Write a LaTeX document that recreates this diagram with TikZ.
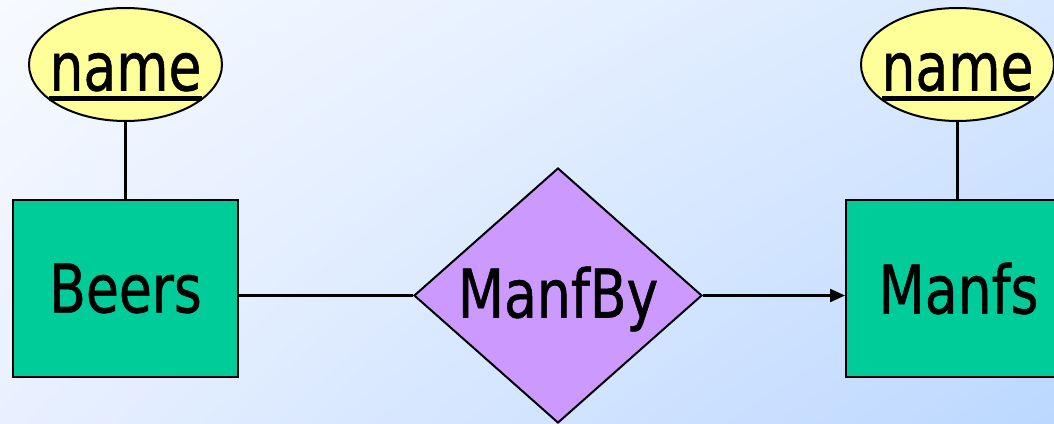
\documentclass[tikz,border=0pt]{standalone}
\usepackage{fontspec}
\setmainfont{DejaVu Sans}[FakeStretch=0.8,FakeBold=0.8]
\usetikzlibrary{shapes.geometric,arrows.meta,shadings}

\definecolor{bgtl}{HTML}{F7FAFF}
\definecolor{bgtr}{HTML}{D8E8FF}
\definecolor{bgbl}{HTML}{E8F0FF}
\definecolor{bgbr}{HTML}{BCD8FF}
\definecolor{entfill}{HTML}{00CC99}
\definecolor{relfill}{HTML}{CC99FF}
\definecolor{attrfill}{HTML}{FFFF99}

% key attribute: thick underline below the word
\newcommand{\keyattr}[1]{\setbox0\hbox{#1}\rlap{\rule[-10pt]{\wd0}{5pt}}\box0}

\tikzset{
	entity/.style={draw, line width=2pt, fill=entfill, rectangle,
		minimum width=225pt, minimum height=177pt, inner sep=0pt},
	relation/.style={draw, line width=2pt, fill=relfill, diamond, aspect=1,
		minimum width=288pt, minimum height=255pt, inner sep=0pt, text depth=0pt, text height=44pt},
	attribute/.style={draw, line width=2pt, fill=attrfill, ellipse,
		minimum width=193pt, minimum height=113pt, inner sep=0pt},
	keytext/.style={inner sep=0pt, text height=62pt, text depth=10pt},
	link/.style={line width=2.2pt},
}

\begin{document}
\begin{tikzpicture}[x=1pt, y=-1pt, font=\fontsize{67}{80}\selectfont]
	% background
	\shade[upper left=bgtl, upper right=bgtr, lower left=bgbl, lower right=bgbr]
		(0,0) rectangle (1054,423);
	\useasboundingbox (0,0) rectangle (1054,423);

	% entities and relationship
	\node[entity] (beers) at (125.5,288.5) {Beers};
	\node[entity] (manfs) at (958.5,288.5) {Manfs};
	\node[relation] (manfby) at (558,295.5) {ManfBy};

	% attributes
	\node[attribute, label={[keytext]center:\keyattr{name}}] (beername) at (125.5,64.5) {};
	\node[attribute, label={[keytext]center:\keyattr{name}}] (manfname) at (957.5,64.5) {};

	% connectors
	\draw[link] (beername) -- (beername |- beers.north);
	\draw[link] (manfname) -- (manfname |- manfs.north);
	\draw[link] (beers.east |- manfby.west) -- (manfby.west);
	\draw[link, -{Triangle[length=15pt,width=13pt]}] (manfby.east) -- (manfs.west |- manfby.east);
\end{tikzpicture}
\end{document}
